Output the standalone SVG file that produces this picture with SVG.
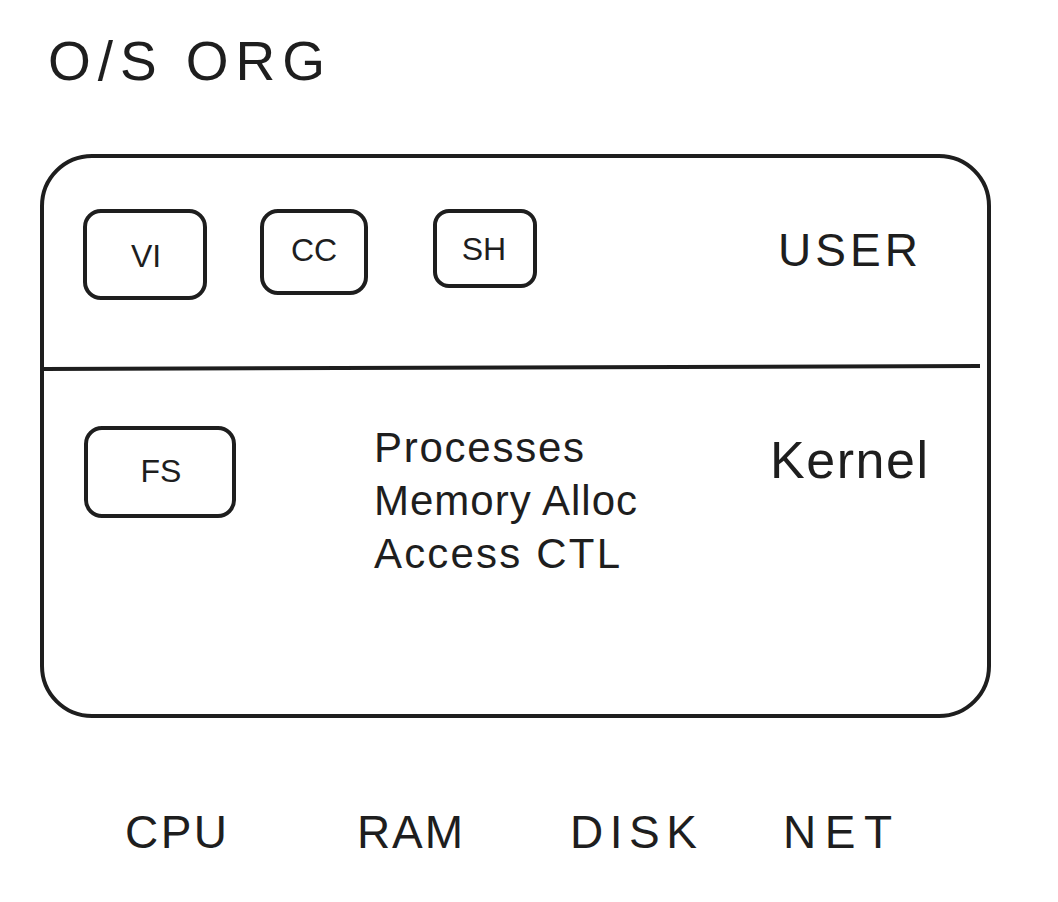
<svg xmlns="http://www.w3.org/2000/svg" width="1058" height="902" viewBox="0 0 1058 902">
<style>
.box{fill:none;stroke:#1e1e1e;stroke-width:4;stroke-linejoin:round}
.t{font-family:"Liberation Sans",Arial,sans-serif;fill:#1e1e1e}
.lbl{font-size:32px;text-anchor:middle}
.big{font-size:46px}
</style>
<rect width="1058" height="902" fill="#ffffff"/>
<text class="t" x="48" y="80" font-size="55" textLength="277" lengthAdjust="spacing">O/S ORG</text>
<g id="os-box">
<rect class="box" x="42" y="156" width="947" height="560" rx="50"/>
</g>
<g id="connectors">
<line class="box" x1="44" y1="369" x2="980" y2="366"/>
</g>
<g id="vi"><rect class="box" x="85" y="211" width="120" height="87" rx="16"/><text class="t lbl" x="146" y="267">VI</text></g>
<g id="cc"><rect class="box" x="262" y="211" width="104" height="82" rx="16"/><text class="t lbl" x="314" y="261">CC</text></g>
<g id="sh"><rect class="box" x="435" y="211" width="100" height="75" rx="14"/><text class="t lbl" x="484" y="260">SH</text></g>
<g id="fs"><rect class="box" x="86" y="428" width="148" height="88" rx="16"/><text class="t lbl" x="161" y="482">FS</text></g>
<g id="user"><text class="t big" x="778" y="266" textLength="140" lengthAdjust="spacing">USER</text></g>
<g id="kernel"><text class="t" x="770" y="478" font-size="52" textLength="158" lengthAdjust="spacing">Kernel</text></g>
<g id="kernel-list">
<text class="t" x="374" y="462" font-size="42" textLength="210" lengthAdjust="spacing">Processes</text>
<text class="t" x="374" y="515" font-size="42" textLength="263" lengthAdjust="spacing">Memory Alloc</text>
<text class="t" x="374" y="568" font-size="42" textLength="246" lengthAdjust="spacing">Access CTL</text>
</g>
<g id="hardware">
<text class="t big" x="125" y="848" textLength="102" lengthAdjust="spacing">CPU</text>
<text class="t big" x="357" y="848" textLength="106" lengthAdjust="spacing">RAM</text>
<text class="t big" x="570" y="848" textLength="127" lengthAdjust="spacing">DISK</text>
<text class="t big" x="783" y="848" textLength="109" lengthAdjust="spacing">NET</text>
</g>
</svg>
